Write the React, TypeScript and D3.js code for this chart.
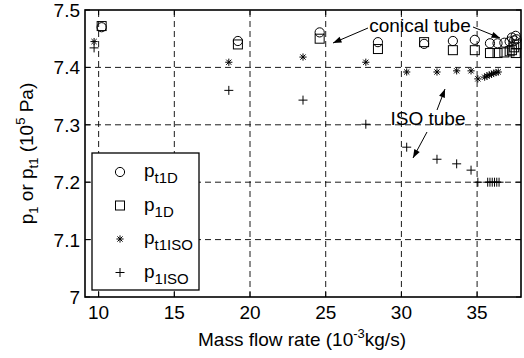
import React from 'react';
import * as d3 from 'd3';

// circles: p_t1D
const pt1D: [number, number][] = [
  [10.2, 7.47], [19.2, 7.446], [24.6, 7.461], [28.45, 7.444], [31.5, 7.441],
  [33.4, 7.446], [34.85, 7.448], [35.85, 7.442], [36.35, 7.442], [36.8, 7.443],
  [37.15, 7.445], [37.3, 7.452], [37.45, 7.447], [37.55, 7.455], [37.6, 7.449],
];
// squares: p_1D
const p1D: [number, number][] = [
  [10.2, 7.472], [19.2, 7.44], [24.6, 7.45], [28.45, 7.432], [31.5, 7.444],
  [33.4, 7.43], [34.85, 7.43], [35.85, 7.425], [36.35, 7.425], [36.8, 7.426],
  [37.15, 7.428], [37.3, 7.43], [37.45, 7.435], [37.55, 7.425], [37.6, 7.44],
];
// stars: p_t1ISO
const pt1ISO: [number, number][] = [
  [9.7, 7.445], [18.6, 7.409], [23.5, 7.418], [27.65, 7.409], [30.35, 7.392],
  [32.35, 7.392], [33.65, 7.394], [34.6, 7.394], [35.05, 7.38], [35.5, 7.383],
  [35.65, 7.385], [35.8, 7.387], [35.95, 7.388], [36.1, 7.39], [36.25, 7.391], [36.4, 7.392],
];
// plus: p_1ISO
const p1ISO: [number, number][] = [
  [9.7, 7.434], [18.6, 7.36], [23.5, 7.343], [27.65, 7.301], [30.35, 7.261],
  [32.35, 7.24], [33.65, 7.232], [34.6, 7.221], [35.05, 7.2], [35.7, 7.2],
  [35.85, 7.2], [36.0, 7.2], [36.15, 7.2], [36.3, 7.2], [36.45, 7.2],
];

const xTicks = [10, 15, 20, 25, 30, 35];
const yTicks = [7, 7.1, 7.2, 7.3, 7.4, 7.5];

const W = 524, H = 358;
const m = { left: 85, right: 3, top: 10, bottom: 61 };
const font = '"Liberation Sans", Arial, sans-serif';
const fs = 19;

const x = d3.scaleLinear().domain([9.1, 37.9]).range([m.left, W - m.right]);
const y = d3.scaleLinear().domain([7, 7.5]).range([H - m.bottom, m.top]);

const Marker = ({ kind, cx, cy }: { kind: string; cx: number; cy: number }) => {
  const s = { stroke: '#000', strokeWidth: 1, fill: 'none' };
  if (kind === 'circle') return <circle cx={cx} cy={cy} r={4.6} {...s} />;
  if (kind === 'square') return <rect x={cx - 4.5} y={cy - 4.5} width={9} height={9} {...s} />;
  if (kind === 'plus') {
    const r = 4.5;
    return <path d={`M${cx - r},${cy}H${cx + r}M${cx},${cy - r}V${cy + r}`} {...s} />;
  }
  const r = 3.6, d = 2.6;
  return (
    <path
      d={`M${cx - r},${cy}H${cx + r}M${cx},${cy - r}V${cy + r}M${cx - d},${cy - d}L${cx + d},${cy + d}M${cx - d},${cy + d}L${cx + d},${cy - d}`}
      {...s}
    />
  );
};

const series = [
  { name: 'circle', data: pt1D, label: 't1D' },
  { name: 'square', data: p1D, label: '1D' },
  { name: 'star', data: pt1ISO, label: 't1ISO' },
  { name: 'plus', data: p1ISO, label: '1ISO' },
];

const Arrow = ({ x1, y1, x2, y2 }: { x1: number; y1: number; x2: number; y2: number }) => {
  const a = Math.atan2(y2 - y1, x2 - x1);
  const L = 9, w = 0.35;
  const p1 = [x2 - L * Math.cos(a - w), y2 - L * Math.sin(a - w)];
  const p2 = [x2 - L * Math.cos(a + w), y2 - L * Math.sin(a + w)];
  return (
    <g>
      <line x1={x1} y1={y1} x2={x2} y2={y2} stroke="#000" strokeWidth={1} />
      <path d={`M${x2},${y2}L${p1[0]},${p1[1]}L${p2[0]},${p2[1]}Z`} fill="#000" />
    </g>
  );
};

export default function App() {
  const [x0, x1] = x.range();
  const [y0, y1] = y.range();
  return (
    <svg width={W} height={H} style={{ position: 'absolute', left: 0, top: 0, background: '#fff' }} fontFamily={font}>
      <rect width={W} height={H} fill="#fff" />
      {/* grid */}
      {xTicks.map(t => (
        <line key={'gx' + t} x1={x(t)} x2={x(t)} y1={y0} y2={y1} stroke="#000" strokeWidth={0.9} strokeDasharray="6,4" />
      ))}
      {yTicks.slice(1, -1).map(t => (
        <line key={'gy' + t} x1={x0} x2={x1} y1={y(t)} y2={y(t)} stroke="#000" strokeWidth={0.9} strokeDasharray="6,4" />
      ))}
      {/* ticks */}
      {xTicks.map(t => (
        <g key={'tx' + t}>
          <line x1={x(t)} x2={x(t)} y1={y0} y2={y0 - 5} stroke="#000" />
          <line x1={x(t)} x2={x(t)} y1={y1} y2={y1 + 5} stroke="#000" />
          <text x={x(t)} y={y0 + 22} textAnchor="middle" fontSize={fs}>{t}</text>
        </g>
      ))}
      {yTicks.map(t => (
        <g key={'ty' + t}>
          <line x1={x0} x2={x0 + 5} y1={y(t)} y2={y(t)} stroke="#000" />
          <line x1={x1} x2={x1 - 5} y1={y(t)} y2={y(t)} stroke="#000" />
          <text x={x0 - 5} y={y(t) + 7} textAnchor="end" fontSize={fs}>{d3.format('')(t)}</text>
        </g>
      ))}
      {/* markers */}
      {series.map(s =>
        s.data.map((d, i) => <Marker key={s.name + i} kind={s.name} cx={x(d[0])} cy={y(d[1])} />)
      )}
      {/* annotations */}
      <text x={420} y={32} textAnchor="middle" fontSize={fs}>conical tube</text>
      <Arrow x1={368} y1={28} x2={333} y2={43} />
      <Arrow x1={473} y1={27} x2={500} y2={38} />
      <text x={428} y={125} textAnchor="middle" fontSize={fs}>ISO tube</text>
      <Arrow x1={437} y1={110} x2={445} y2={89} />
      <Arrow x1={427} y1={132} x2={413} y2={158} />
      {/* frame */}
      <rect x={x0} y={y1} width={x1 - x0} height={y0 - y1} fill="none" stroke="#000" strokeWidth={1.6} />
      {/* legend */}
      <rect x={92} y={153} width={107} height={137} fill="#fff" stroke="#000" strokeWidth={1.3} />
      {series.map((s, i) => {
        const cy = 172 + i * 33.5;
        return (
          <g key={'lg' + s.name}>
            <Marker kind={s.name} cx={120} cy={cy} />
            <text x={144} y={cy + 5} fontSize={fs}>
              p<tspan fontSize={15} dy={6}>{s.label}</tspan>
            </text>
          </g>
        );
      })}
      {/* axis labels */}
      <text x={302} y={346} textAnchor="middle" fontSize={fs}>
        Mass flow rate (10<tspan fontSize={13} dy={-8}>-3</tspan><tspan dy={8}>kg/s)</tspan>
      </text>
      <text transform={`translate(33,${(y0 + y1) / 2}) rotate(-90)`} textAnchor="middle" fontSize={fs}>
        p<tspan fontSize={13} dy={5}>1</tspan>
        <tspan dy={-5}> or p</tspan>
        <tspan fontSize={13} dy={5}>t1</tspan>
        <tspan dy={-5}> (10</tspan>
        <tspan fontSize={13} dy={-8}>5</tspan>
        <tspan dy={8}> Pa)</tspan>
      </text>
    </svg>
  );
}
